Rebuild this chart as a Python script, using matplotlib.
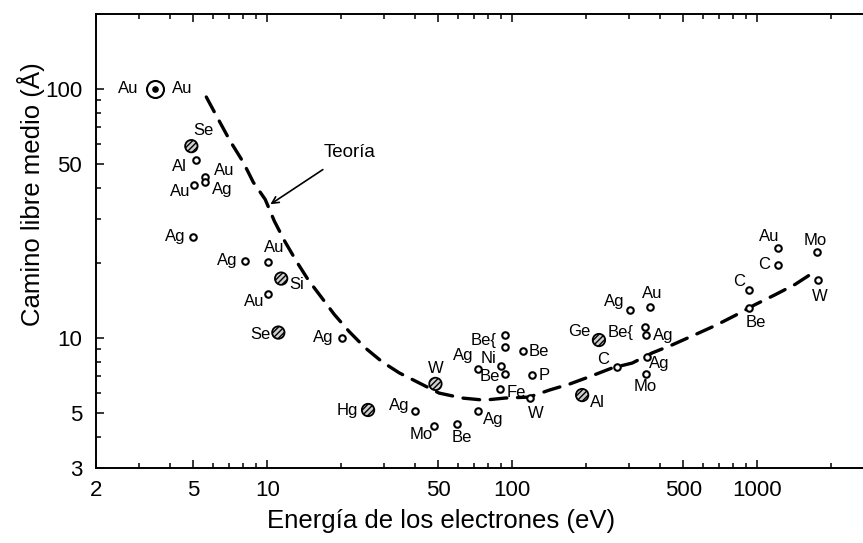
import matplotlib
matplotlib.use("Agg")
import matplotlib.pyplot as plt
from matplotlib.ticker import FixedLocator, NullFormatter, LogLocator, FixedFormatter

plt.rcParams['font.family'] = ['Liberation Sans', 'DejaVu Sans']

# ---------------- data ----------------
# measured points: element, energy (eV), mean free path (Angstrom), marker kind
elements = ["Se", "Al", "Au", "Ag", "Au", "Ag", "Ag", "Au", "Si", "Au", "Se", "Ag",
            "Hg", "Ag", "Mo", "W", "Be", "Ag", "Ag", "Be", "Be", "Ni", "Be", "Fe",
            "Be", "P", "W", "Ge", "Al", "Ag", "Au", "Be", "Ag", "C", "Ag", "Mo",
            "C", "Be", "Au", "C", "Mo", "W"]
energy = [4.9, 5.13, 5.58, 5.58, 5.03, 5.0, 8.13, 10.1, 11.4, 10.1, 11.1, 20.1,
          25.8, 40.2, 48.1, 48.6, 59.7, 72.6, 72.6, 93.6, 93.6, 90.2, 93.6, 89.3,
          111, 121, 118, 226, 193, 303, 366, 349, 352, 268, 356, 352,
          927, 927, 1219, 1219, 1758, 1778]
mfp = [58.9, 51.8, 44.2, 42.2, 41.0, 25.5, 20.4, 20.2, 17.3, 15.0, 10.5, 10.0,
       5.13, 5.08, 4.42, 6.53, 4.50, 5.08, 7.50, 10.3, 9.2, 7.71, 7.16, 6.22,
       8.87, 7.10, 5.73, 9.8, 5.89, 12.9, 13.3, 11.1, 10.3, 7.64, 8.38, 7.16,
       15.5, 13.2, 22.9, 19.7, 22.2, 17.0]
kinds = ["h", "s", "s", "s", "s", "s", "s", "s", "h", "s", "h", "s",
         "h", "s", "s", "h", "s", "s", "s", "s", "s", "s", "s", "s",
         "s", "s", "s", "h", "h", "s", "s", "s", "s", "s", "s", "s",
         "s", "s", "s", "s", "s", "s"]

# Au bull's-eye point
au_energy = 3.49
au_mfp = 100

# theory curve
theory_energy = [5.64, 6.37, 7.06, 7.98, 8.77, 9.81, 10.7, 11.8, 13.2, 14.7, 16.6,
                 18.8, 21.6, 25.1, 29.5, 34.6, 41.7, 50.3, 62.5, 76.9, 93.6, 117,
                 142, 172, 206, 256, 309, 373, 450, 558, 674, 813, 981, 1184,
                 1429, 1725]
theory_mfp = [92.8, 74.3, 61.7, 50.8, 42.2, 36.0, 29.4, 24.4, 20.2, 17.1, 14.6,
              12.4, 10.6, 9.12, 8.00, 7.23, 6.59, 6.00, 5.73, 5.62, 5.73, 5.78,
              6.17, 6.53, 6.97, 7.57, 7.92, 8.70, 9.37, 10.3, 11.2, 12.3, 13.6,
              14.9, 16.4, 18.5]

x_ticks = [2, 5, 10, 50, 100, 500, 1000]
x_tick_labels = ["2", "5", "10", "50", "100", "500", "1000"]
y_ticks = [3, 5, 10, 50, 100]
y_tick_labels = ["3", "5", "10", "50", "100"]

# label offsets (pixels, dx right, dy down) -- styling only
label_offsets = [(12, -16), (-17, 6), (19, -7), (17, 7), (-14, 6), (-18, 0),
                 (-18, 0), (6, -14), (15, 6), (-14, 7), (-18, 2), (-18, 0),
                 (-21, 0), (-16, -6), (-13, 8), (0, -15), (4, 13), (15, 8),
                 (-15, -13), None, None, (-13, -7), (-15, 3), (16, 3),
                 (16, 1), (12, 1), (6, 15), (-20, -9), (15, 7), (-16, -9),
                 (2, -14), None, (17, 1), (-14, -7), (12, 7), (-1, 13),
                 (-10, -9), (7, 15), (-9, -12), (-14, 0), (-2, -11), (1, 16)]

# ---------------- figure ----------------
W, H = 863, 543
fig = plt.figure(figsize=(W / 100, H / 100), dpi=100)
ax = fig.add_axes([96 / W, 1 - 468 / H, 1 - 96 / W, (468 - 14) / H])
ax.set_xscale("log")
ax.set_yscale("log")
ax.set_xlim(2, 2704)
ax.set_ylim(3, 200)

for s in ["top", "left", "bottom"]:
    ax.spines[s].set_linewidth(1.4)
ax.spines["right"].set_visible(False)

ax.xaxis.set_major_locator(FixedLocator(x_ticks))
ax.xaxis.set_major_formatter(FixedFormatter(x_tick_labels))
ax.yaxis.set_major_locator(FixedLocator(y_ticks))
ax.yaxis.set_major_formatter(FixedFormatter(y_tick_labels))
ax.xaxis.set_minor_locator(LogLocator(base=10, subs=range(1, 10), numticks=20))
ax.yaxis.set_minor_locator(LogLocator(base=10, subs=range(1, 10), numticks=20))
ax.xaxis.set_minor_formatter(NullFormatter())
ax.yaxis.set_minor_formatter(NullFormatter())
ax.tick_params(which="both", direction="in", top=True, right=False, width=1.1)
ax.tick_params(which="major", length=6, labelsize=16)
ax.tick_params(which="minor", length=3.5)
ax.tick_params(axis="x", which="major", pad=9)
ax.tick_params(axis="y", which="major", pad=10)

# theory curve
ax.plot(theory_energy, theory_mfp, color="black", lw=2.4, ls=(0, (5, 3.2)),
        dash_capstyle="round", zorder=2)

# data points
small_x = [e for e, k in zip(energy, kinds) if k == "s"]
small_y = [m for m, k in zip(mfp, kinds) if k == "s"]
big_x = [e for e, k in zip(energy, kinds) if k == "h"]
big_y = [m for m, k in zip(mfp, kinds) if k == "h"]
ax.scatter(small_x, small_y, s=22, facecolors="white", edgecolors="black",
           linewidths=1.5, zorder=3)
ax.scatter(big_x, big_y, s=80, facecolors="#cfcfcf", edgecolors="black",
           linewidths=1.3, hatch="//////", zorder=3)
ax.scatter([au_energy], [au_mfp], s=150, facecolors="white", edgecolors="black",
           linewidths=1.5, zorder=3)
ax.scatter([au_energy], [au_mfp], s=14, facecolors="black", edgecolors="black",
           zorder=4)

lab_kw = dict(fontsize=12, ha="center", va="center", textcoords="offset pixels")
ax.annotate("Au", (au_energy, au_mfp), xytext=(-27, 0), **lab_kw)
ax.annotate("Au", (au_energy, au_mfp), xytext=(27, 0), **lab_kw)
for el, e, m, off in zip(elements, energy, mfp, label_offsets):
    if off is None:
        continue
    dx, dy = off
    ax.annotate(el, (e, m), xytext=(dx, -dy), **lab_kw)

# braced Be labels (pairs)
ax.annotate("Be{", (93.6, 9.75), xytext=(-22, 0), **lab_kw)
ax.annotate("Be{", (349, 10.7), xytext=(-25, -2), **lab_kw)

# Teoria annotation
ax.annotate("Teoría", xy=(10.3, 34.4), xytext=(21.6, 55.7), fontsize=13.5,
            ha="center", va="center",
            arrowprops=dict(arrowstyle="->", color="black", lw=1.2,
                            shrinkA=8, shrinkB=0, mutation_scale=12))

fig.text(441 / W, 1 - 521 / H, "Energía de los electrones (eV)", fontsize=18.5,
         ha="center", va="center")
fig.text(31 / W, 1 - 194 / H, "Camino libre medio (Å)", fontsize=18.5,
         ha="center", va="center", rotation=90)

fig.savefig("out.png", dpi=100)
